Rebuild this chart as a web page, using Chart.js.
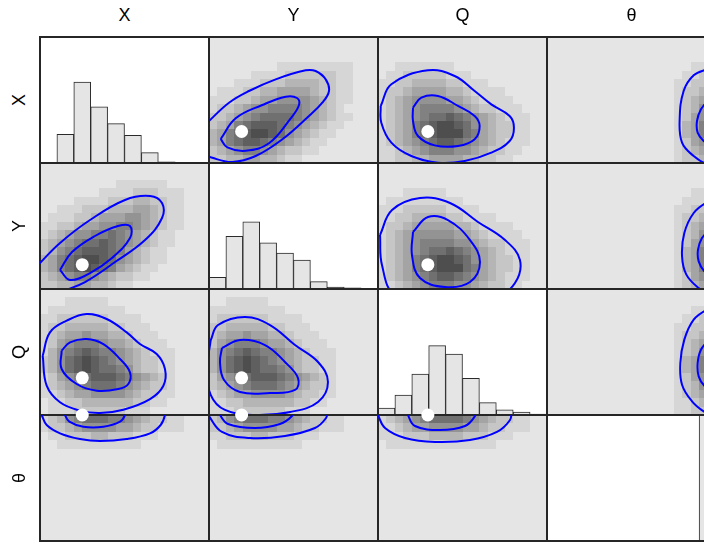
<!DOCTYPE html>
<html>
<head>
<meta charset="utf-8">
<title>Pairs plot: X, Y, Q, θ</title>
<script src="https://cdn.jsdelivr.net/npm/chart.js@4.4.1/dist/chart.umd.min.js"></script>
<style>
  html, body { margin: 0; padding: 0; background: #ffffff; }
  body { position: relative; width: 704px; height: 543px; overflow: hidden; }
  canvas { position: absolute; }
  .label {
    position: absolute;
    font-family: "Liberation Sans", Arial, sans-serif;
    font-size: 18px; line-height: 18px; height: 18px;
    color: #000; text-align: center; white-space: nowrap;
  }
</style>
</head>
<body>
<script>
// ---- variables ----
const variables = ['X', 'Y', 'Q', 'θ'];
const keys = ['X', 'Y', 'Q', 'T'];

// ---- marginal histograms: counts in 10 equal bins over each variable's range ----
const histX = [0, 114, 321, 223, 156, 110, 41, 5, 2, 1];
const histY = [46, 209, 267, 183, 143, 115, 29, 8, 5, 0];
const histQ = [27, 79, 162, 275, 242, 146, 49, 21, 12, 4];
const histT = [2, 0, 0, 0, 2, 0, 0, 0, 0, 985];
const histTop = 500;
const binLabels = ['1', '2', '3', '4', '5', '6', '7', '8', '9', '10'];

// ---- reference values, as a fraction of each variable's plotted range ----
const truth = [0.25, 0.193, 0.295, 1.0];

// ---- binned joint densities: shade level 0 (empty) .. 9 (densest),
//      rows listed top to bottom, 20 bins across ----
const dens_XY = [
  '', '', '',
  '00000000111111111',
  '00000111122222211',
  '00011122233332211',
  '01112233444432211',
  '11122344555543211',
  '1223455666654321',
  '22345677776543211',
  '2346788876543211',
  '346789987543211',
  '34678876543211',
  '2345665432211',
  '22334433211'
];
const dens_YX = [
  '', '',
  '000000000111111',
  '00000001111222111',
  '00001111222332211',
  '00111222333443211',
  '01112234445543211',
  '11223445566543211',
  '1234556676543211',
  '2345677876543211',
  '235678887643211',
  '346789987543211',
  '34678987643211',
  '2345665432211',
  '22334433211'
];
const dens_XQ = [
  '', '', '',
  '001111111',
  '01122222111',
  '1122333322111',
  '122344443321111',
  '1234555544321111',
  '12345666654322111',
  '123456778765432111',
  '123467899875432211',
  '123467899976432211',
  '123456788765432111',
  '11234566655432211',
  '1122334444332211'
];
const dens_YQ = [
  '', '', '',
  '00011111',
  '0111111111',
  '111222221111',
  '11223333221111',
  '1223444443321111',
  '12345555544321111',
  '123456666554322111',
  '123456778765432111',
  '123467899875432211',
  '123467899976432211',
  '123456788765432111',
  '11234566655432211'
];
const dens_QX = [
  '',
  '00011111',
  '0111111111',
  '112222221111',
  '1223333322111',
  '12344544332111',
  '124566654432111',
  '1356787665432111',
  '2357898765432211',
  '2357898776532211',
  '1245678887654321',
  '1234567776543221',
  '1123445555432211',
  '011223333332211',
  '0111222222111'
];
const dens_QY = [
  '',
  '0011111',
  '111111111',
  '12222221111',
  '223333322111',
  '2344544332111',
  '24566654432111',
  '356787665432111',
  '357898765432211',
  '357898776532211',
  '245678887654321',
  '234567776543221',
  '123445555432211',
  '11223333332211',
  '111222222111'
];
const dens_TX = ['12356777665432211', '12234555544322111', '01122233222111', '001111111111'];
const dens_TY = ['2356777665432211', '2234555544322111', '1122233222111', '01111111111'];
const dens_TQ = ['123456777765432211', '112344555544322111', '1112223333222111', '01111111111111'];
// θ across: rows right-aligned to the upper end of θ
const dens_XT = ['', '', '', '111', '1122', '11223', '12234', '12345', '12356', '12457', '13467', '13467', '12456', '12345', '12234'];
const dens_YT = ['', '', '', '111', '1112', '11223', '12234', '12345', '12356', '12457', '13467', '13468', '13467', '12456', '12345'];
const dens_QT = ['', '', '111', '1122', '11223', '12234', '12345', '12356', '13467', '13467', '12457', '12356', '12345', '11234', '11223'];

// ---- credible-region contours, vertices in bin units (x across 0..20, y up 0..15) ----
const outer_XY = [[-0.4,4.6],[0,5.0],[2.37,7.18],[4.73,8.57],[7.89,9.96],[11.44,11.03],[12.62,10.95],[13.81,9.96],[14.2,8.57],[13.41,7.18],[11.83,5.6],[8.68,2.82],[5.52,0.83],[2.76,0.12],[0.39,0.63],[-0.4,1.1]];
const inner_XY = [[1.38,2.86],[3.16,5.32],[6.31,6.9],[9.08,7.89],[10.41,7.74],[10.65,6.9],[9.67,5.32],[7.1,2.35],[4.34,1.46],[2.17,1.87]];
const outer_XQ = [[0.32,6.79],[1.58,9.37],[5.92,11.03],[9.07,10.36],[11.44,8.57],[13.41,6.98],[15.58,5.6],[16.09,4.21],[15.58,2.62],[13.41,1.23],[10.26,0.24],[7.1,0.04],[3.94,0.83],[1.58,2.42],[0.39,4.8]];
const inner_XQ = [[4.14,6.59],[5.13,7.78],[7.1,7.98],[9.47,6.79],[11.44,5.6],[12.03,4.4],[11.44,2.82],[9.47,2.02],[6.71,2.1],[4.73,3.21],[4.14,5.0]];
const outer_YX = [[-0.5,2.6],[0,3.1],[2.37,5.48],[5.92,8.21],[10.06,10.6],[13.02,11.07],[14.44,10.24],[14.44,8.45],[12.43,5.83],[8.88,3.21],[5.33,0.83],[2.6,-0.3],[1.5,-0.8],[-0.8,-0.8]];
const inner_YX = [[2.37,2.26],[3.79,4.4],[6.51,6.31],[9.23,7.5],[10.65,7.5],[10.65,6.07],[8.52,3.69],[5.92,1.9],[3.55,1.07]];
const outer_YQ = [[0.24,6.43],[1.66,9.4],[4.97,10.83],[8.52,10.24],[11.83,7.98],[15.03,5.83],[16.8,3.45],[16.21,0.71],[13.85,-1.07],[7.34,-1.9],[2.01,-0.71],[0.47,2.86]];
const inner_YQ = [[4.14,6.79],[5.92,8.57],[8.28,8.21],[10.89,5.83],[12.07,3.21],[10.89,0.83],[7.93,0.24],[4.97,1.31],[4.02,4.05]];
const outer_QX = [[0.32,7.06],[1.18,9.84],[3.16,11.23],[5.52,12.02],[7.89,11.43],[10.26,9.84],[11.83,8.45],[13.81,7.26],[14.79,5.48],[14.6,3.49],[13.02,1.9],[9.86,0.63],[7.1,0.24],[4.73,0.52],[2.37,1.51],[0.79,3.49]];
const inner_QX = [[2.56,7.66],[3.55,8.65],[5.52,9.05],[7.5,8.45],[9.47,6.67],[10.65,5.08],[10.45,3.69],[9.27,3.1],[6.71,2.9],[4.34,3.69],[2.56,5.48]];
const outer_QY = [[0.2,8.9],[1.07,10.71],[4.26,11.67],[7.22,10.71],[10.18,8.33],[12.9,6.31],[14.08,3.93],[12.9,1.55],[9.59,0.36],[5.44,0],[1.89,0.6],[0.2,2.4],[-0.2,5.6]];
const inner_QY = [[1.54,7.98],[3.67,8.93],[6.63,8.33],[8.99,6.31],[10.53,4.4],[10.18,2.98],[7.22,2.62],[3.67,2.74],[1.78,4.17],[1.3,6.31]];
const outer_XT = [[20.5,11.6],[18.93,11.15],[17.36,10.44],[16.17,8.57],[15.7,5.2],[15.98,2.42],[17.36,0.83],[18.93,-0.16],[20.5,-0.5]];
const inner_XT = [[20.5,7.6],[18.93,7.18],[18.22,6.39],[17.75,5.0],[17.83,3.61],[18.54,2.62],[19.33,2.2],[20.5,2.0]];
const outer_YT = [[20.5,10.8],[18.93,10.32],[17.36,9.05],[16.25,6.67],[15.98,3.89],[16.49,1.71],[17.95,0.12],[19.3,-0.67]];
const inner_YT = [[20.5,7.2],[19.13,6.87],[18.34,6.07],[17.87,4.68],[17.95,3.29],[18.62,2.1],[19.33,1.7],[20.5,1.4]];
const outer_QT = [[20.5,13.0],[18.93,12.54],[17.36,11.35],[16.25,8.97],[15.78,6.19],[15.98,3.61],[17.16,1.63],[18.54,0.44],[19.72,-0.1]];
const inner_QT = [[20.5,9.1],[19.13,8.77],[18.22,7.77],[17.83,6.19],[17.95,4.6],[18.62,3.49],[19.33,3.2],[20.5,3.0]];
const outer_TX = [[0.0,15.4],[0.2,15],[0.79,13.81],[2.37,12.82],[4.73,12.14],[7.1,11.9],[10.26,12.14],[13.02,12.82],[14.28,13.81],[14.79,15],[14.7,15.6]];
const inner_TX = [[2.9,15.5],[2.96,15],[3.47,14.21],[5.13,13.61],[7.5,13.61],[9.47,14.21],[10.06,15],[10.0,15.5]];
const outer_TY = [[-0.3,15.6],[0,14.88],[1.54,12.98],[4.85,12.26],[8.99,12.5],[12.54,13.45],[13.85,14.64],[14.0,15.5]];
const inner_TY = [[1.2,15.5],[1.3,15],[2.25,13.93],[5.44,13.45],[8.4,13.93],[9.82,14.88],[9.9,15.5]];
const outer_TQ = [[-0.2,15.5],[0,15],[0.83,13.45],[3.2,12.26],[6.75,11.79],[10.89,12.02],[14.08,12.98],[15.62,14.4],[15.8,15.5]];
const inner_TQ = [[3.5,15.5],[3.55,15],[4.38,13.69],[7.34,13.21],[10.3,13.69],[11.48,14.88],[11.5,15.5]];

// ---- lookup tables built from the arrays above ----
const NCOL = 20, NROW = 15;
const hists = { X: histX, Y: histY, Q: histQ, T: histT };
const densities = {
  XY: dens_XY, XQ: dens_XQ, YX: dens_YX, YQ: dens_YQ, QX: dens_QX, QY: dens_QY,
  TX: dens_TX, TY: dens_TY, TQ: dens_TQ,
  XT: dens_XT.map(r => r && r.padStart(NCOL, '0')),
  YT: dens_YT.map(r => r && r.padStart(NCOL, '0')),
  QT: dens_QT.map(r => r && r.padStart(NCOL, '0'))
};
const outers = { XY: outer_XY, XQ: outer_XQ, YX: outer_YX, YQ: outer_YQ, QX: outer_QX, QY: outer_QY,
  XT: outer_XT, YT: outer_YT, QT: outer_QT, TX: outer_TX, TY: outer_TY, TQ: outer_TQ };
const inners = { XY: inner_XY, XQ: inner_XQ, YX: inner_YX, YQ: inner_YQ, QX: inner_QX, QY: inner_QY,
  XT: inner_XT, YT: inner_YT, QT: inner_QT, TX: inner_TX, TY: inner_TY, TQ: inner_TQ };

// ---- layout and style ----
const LEFT = 40, TOP = 37, CW = 169, CH = 126, PAD = 8;
const shades = ['#e5e5e5', '#d6d6d6', '#c6c6c6', '#b5b5b5', '#a4a4a4', '#939393', '#818181', '#707070', '#5f5f5f', '#4e4e4e'];
const contourBlue = '#0000ff';
const frameColor = '#262626';

// Panel background, binned density image and frame
function panelPlugin(grid, background, frameLast) {
  function frame(chart) {
    const { ctx, chartArea: a } = chart;
    ctx.save();
    ctx.strokeStyle = frameColor;
    ctx.lineWidth = 2;
    ctx.strokeRect(a.left, a.top, a.width, a.height);
    ctx.restore();
  }
  return {
    id: 'panel',
    beforeDatasetsDraw(chart) {
      const { ctx, chartArea: a, scales } = chart;
      ctx.save();
      ctx.fillStyle = background;
      ctx.fillRect(a.left, a.top, a.width, a.height);
      if (grid) {
        const xs = scales.x, ys = scales.y;
        ctx.beginPath();
        ctx.rect(a.left, a.top, a.width, a.height);
        ctx.clip();
        grid.forEach((row, r) => {
          for (let c = 0; c < row.length; c++) {
            const level = Number(row[c]);
            if (!level) continue;
            const x0 = Math.round(xs.getPixelForValue(c));
            const x1 = Math.round(xs.getPixelForValue(c + 1));
            const y0 = Math.round(ys.getPixelForValue(NROW - r));
            const y1 = Math.round(ys.getPixelForValue(NROW - r - 1));
            ctx.fillStyle = shades[level];
            ctx.fillRect(x0, y0, x1 - x0, y1 - y0);
          }
        });
      }
      ctx.restore();
      if (!frameLast) frame(chart);
    },
    afterDatasetsDraw(chart) {
      if (frameLast) frame(chart);
    }
  };
}

function baseOptions(xScale, yScale) {
  return {
    responsive: false,
    animation: false,
    devicePixelRatio: 1,
    events: [],
    layout: { padding: PAD },
    scales: { x: xScale, y: yScale },
    plugins: { legend: { display: false }, tooltip: { enabled: false } }
  };
}

function makeCanvas(r, c) {
  const cv = document.createElement('canvas');
  cv.width = CW + 2 * PAD;
  cv.height = CH + 2 * PAD;
  cv.style.left = (LEFT + c * CW - PAD) + 'px';
  cv.style.top = (TOP + r * CH - PAD) + 'px';
  cv.style.width = cv.width + 'px';
  cv.style.height = cv.height + 'px';
  document.body.appendChild(cv);
  return cv;
}

function histogramPanel(cv, key) {
  new Chart(cv, {
    type: 'bar',
    data: {
      labels: binLabels,
      datasets: [{
        data: hists[key],
        backgroundColor: '#e5e5e5',
        borderColor: '#2a2a2a',
        borderWidth: 1,
        borderSkipped: 'start',
        barPercentage: 1,
        categoryPercentage: 1,
        clip: 0
      }]
    },
    options: baseOptions(
      { type: 'category', offset: true, display: false },
      { type: 'linear', min: 0, max: histTop, display: false }
    ),
    plugins: [panelPlugin(null, '#ffffff', true)]
  });
}

function densityPanel(cv, r, c) {
  const key = keys[r] + keys[c];
  const closed = keys[r] !== 'T' && keys[c] !== 'T';
  const datasets = [{
    data: [{ x: truth[c] * NCOL, y: truth[r] * NROW }],
    pointRadius: 6.5,
    backgroundColor: '#ffffff',
    borderColor: '#ffffff',
    borderWidth: 0,
    clip: false,
    order: 0
  }];
  [outers[key], inners[key]].forEach(pts => {
    const line = pts.map(([x, y]) => ({ x, y }));
    if (closed) line.push(line[0]);
    datasets.push({
      data: line,
      showLine: true,
      tension: 0.4,
      capBezierPoints: false,
      pointRadius: 0,
      borderColor: contourBlue,
      borderWidth: 2,
      fill: false,
      clip: 0,
      order: 1
    });
  });
  new Chart(cv, {
    type: 'scatter',
    data: { datasets },
    options: baseOptions(
      { type: 'linear', min: 0, max: NCOL, display: false },
      { type: 'linear', min: 0, max: NROW, display: false }
    ),
    plugins: [panelPlugin(densities[key], shades[0], false)]
  });
}

for (let r = 0; r < 4; r++) {
  for (let c = 0; c < 4; c++) {
    const cv = makeCanvas(r, c);
    if (r === c) histogramPanel(cv, keys[r]);
    else densityPanel(cv, r, c);
  }
}

// ---- variable names: across the top and up the left side ----
variables.forEach((name, i) => {
  const head = document.createElement('div');
  head.className = 'label';
  head.textContent = name;
  head.style.left = (LEFT + i * CW) + 'px';
  head.style.top = '6px';
  head.style.width = CW + 'px';
  document.body.appendChild(head);

  const side = document.createElement('div');
  side.className = 'label';
  side.textContent = name;
  side.style.width = CH + 'px';
  side.style.left = (18.7 - CH / 2) + 'px';
  side.style.top = (TOP + i * CH + CH / 2 - 9) + 'px';
  side.style.transform = 'rotate(-90deg)';
  document.body.appendChild(side);
});
</script>
</body>
</html>
